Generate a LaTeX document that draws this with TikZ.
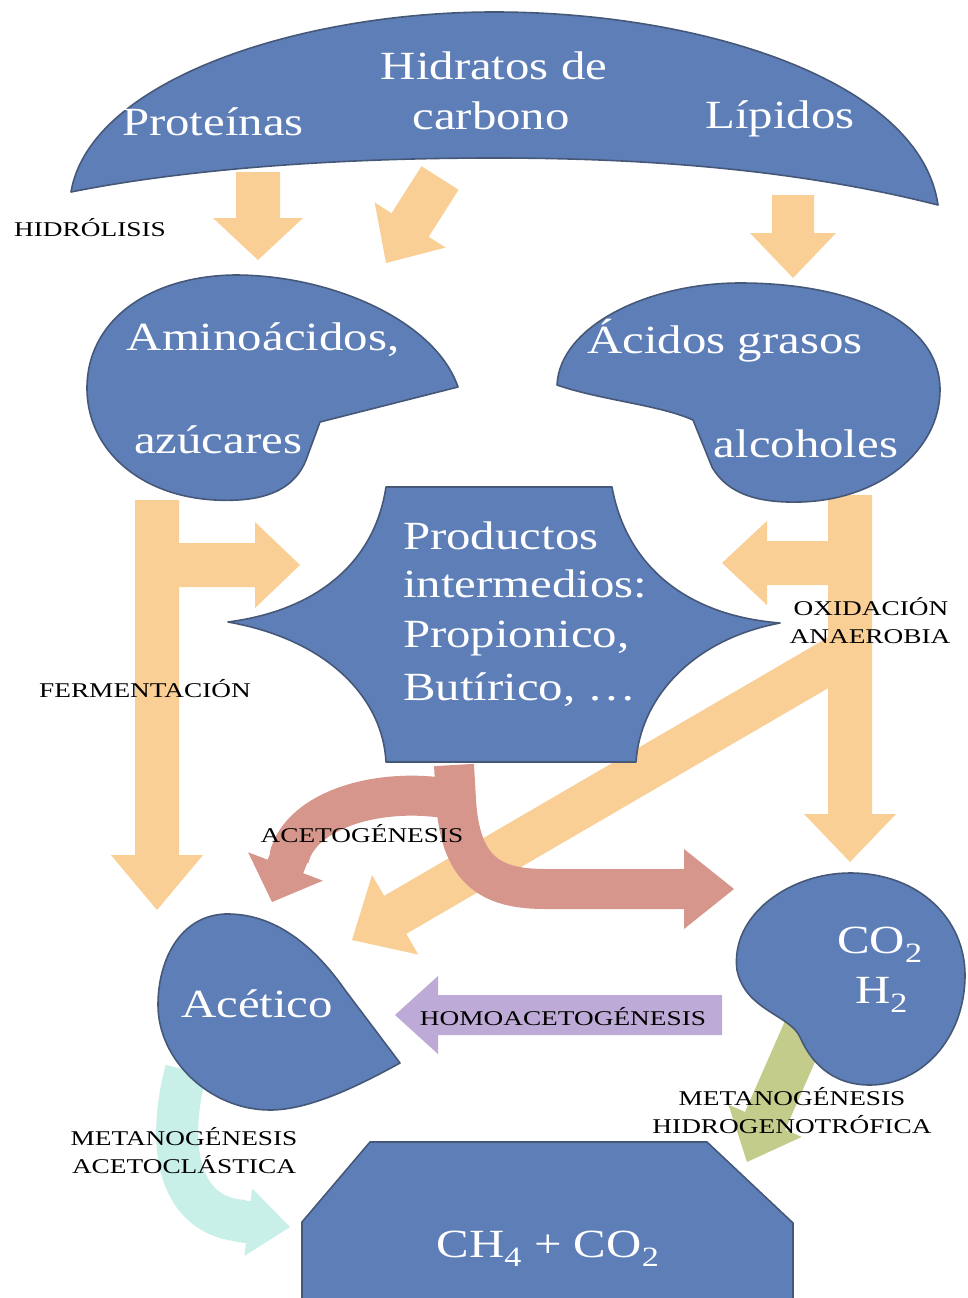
\documentclass[tikz,border=0pt]{standalone}
\usepackage{fontspec}
\setmainfont{Liberation Serif}
\usepackage{graphicx}
\usetikzlibrary{calc}
\definecolor{blobblue}{RGB}{94,126,184}
\definecolor{blobedge}{RGB}{70,88,120}
\definecolor{orng}{RGB}{250,207,150}
\definecolor{pnk}{RGB}{214,150,140}
\definecolor{purp}{RGB}{190,170,214}
\definecolor{cyn}{RGB}{200,240,232}
\definecolor{olv}{RGB}{196,204,140}
\newcommand\bigtxt[1]{\scalebox{1.22}[1]{#1}}
\newcommand\labtxt[1]{\scalebox{1.3}[1]{#1}}
% block arrow: colour, start, tip, half shaft, half head, head length
\newcommand{\barrow}[6]{%
  \coordinate (hb) at ($(#3)!#6!(#2)$);
  \fill[#1] ($(#2)!#4!90:(#3)$) -- ($(hb)!#4!90:(#3)$) -- ($(hb)!#5!90:(#3)$) -- (#3)
    -- ($(hb)!#5!-90:(#3)$) -- ($(hb)!#4!-90:(#3)$) -- ($(#2)!#4!-90:(#3)$) -- cycle;}
\tikzset{
  blob/.style={fill=blobblue, draw=blobedge, line width=1.6pt, line join=round},
  btx/.style={text=white, font=\fontsize{40}{48}\selectfont, inner sep=0pt, anchor=base},
  lbl/.style={text=black, font=\fontsize{21}{28}\selectfont, inner sep=0pt, anchor=base},
  band/.style={line width=40pt, line cap=butt},
}
\begin{document}
\begin{tikzpicture}[x=1pt,y=-1pt]
\useasboundingbox[fill=white] (0,0) rectangle (967,1298);

% ---------- coordinates ----------
\coordinate (h1a) at (258,172); \coordinate (h1b) at (258,260);
\coordinate (h2a) at (440,178); \coordinate (h2b) at (386,263);
\coordinate (h3a) at (793,195); \coordinate (h3b) at (793,278);
\coordinate (fl1) at (157,500); \coordinate (fl2) at (157,910);
\coordinate (fb1) at (165,565); \coordinate (fb2) at (300,565);
\coordinate (or1) at (850,495); \coordinate (or2) at (850,862);
\coordinate (ob1) at (840,563); \coordinate (ob2) at (722,563);
\coordinate (od1) at (850,650); \coordinate (od2) at (352,940);
\coordinate (pu1) at (722,1015); \coordinate (pu2) at (395,1015);
\coordinate (ol1) at (805,1030); \coordinate (ol2) at (747,1162);
\coordinate (pl1) at (291,852); \coordinate (pl2) at (272,902);
\coordinate (pr1) at (670,889); \coordinate (pr2) at (734,889);
\coordinate (cy1) at (238,1221); \coordinate (cy2) at (290,1227);

% ---------- orange arrows (hydrolysis, fermentation, oxidation) ----------
\barrow{orng}{h1a}{h1b}{22pt}{45pt}{42pt}
\barrow{orng}{h2a}{h2b}{22pt}{42pt}{45pt}
\barrow{orng}{h3a}{h3b}{21pt}{43pt}{45pt}
\barrow{orng}{fl1}{fl2}{22pt}{46pt}{55pt}
\barrow{orng}{fb1}{fb2}{22pt}{43pt}{45pt}
\barrow{orng}{or1}{or2}{22pt}{46pt}{48pt}
\barrow{orng}{ob1}{ob2}{22pt}{42pt}{45pt}
\barrow{orng}{od1}{od2}{22pt}{46pt}{50pt}

% ---------- acetogenesis (pink, double) ----------
\draw[pnk, band] (454,765) -- (456,800) .. controls (460,870) and (490,889) .. (545,889) -- (690,889);
\draw[pnk, band] (456,800) .. controls (380,785) and (300,810) .. (289,858);
\barrow{pnk}{pr1}{pr2}{19pt}{40pt}{50pt}
\barrow{pnk}{pl1}{pl2}{19pt}{40pt}{38pt}

% ---------- methanogenesis arrows ----------
\draw[cyn, band, line width=42pt] (186,1070) .. controls (165,1150) and (180,1218) .. (245,1221);
\barrow{cyn}{cy1}{cy2}{21pt}{34pt}{42pt}
\barrow{olv}{ol1}{ol2}{22pt}{40pt}{45pt}

% ---------- homoacetogenesis ----------
\barrow{purp}{pu1}{pu2}{20pt}{39pt}{43pt}

% ---------- blue shapes ----------
\path[blob] (71,192) .. controls (90,80) and (300,12) .. (494,12)
  .. controls (700,12) and (920,80) .. (938,205)
  .. controls (800,170) and (650,158) .. (494,158)
  .. controls (330,158) and (180,170) .. (71,192) -- cycle;

\path[blob] (458,387) -- (320,422) -- (306,460)
  .. controls (292,495) and (255,502) .. (215,500)
  .. controls (140,496) and (88,450) .. (87,390)
  .. controls (86,320) and (150,276) .. (235,275)
  .. controls (330,275) and (435,320) .. (458,387) -- cycle;

\path[blob] (557,385) .. controls (600,400) and (660,405) .. (693,420) -- (712,467)
  .. controls (728,495) and (760,503) .. (800,502)
  .. controls (880,500) and (940,450) .. (940,390)
  .. controls (940,320) and (850,283) .. (740,283)
  .. controls (650,283) and (560,325) .. (557,385) -- cycle;

\path[blob] (386,487) -- (612,487)
  .. controls (625,560) and (680,615) .. (780,623)
  .. controls (690,640) and (640,700) .. (636,762)
  -- (386,762)
  .. controls (383,700) and (330,640) .. (228,622)
  .. controls (320,610) and (375,560) .. (386,487) -- cycle;

\path[blob] (400,1063) -- (345,990)
  .. controls (310,940) and (270,913) .. (225,914)
  .. controls (180,916) and (158,960) .. (158,1005)
  .. controls (158,1060) and (210,1110) .. (270,1110)
  .. controls (310,1110) and (360,1085) .. (400,1063) -- cycle;

\path[blob] (850,873) .. controls (920,873) and (965,920) .. (965,975)
  .. controls (965,1040) and (920,1085) .. (870,1085)
  .. controls (830,1085) and (810,1060) .. (800,1037)
  .. controls (790,1015) and (745,1010) .. (737,970)
  .. controls (730,915) and (790,873) .. (850,873) -- cycle;

\path[blob] (370,1142) -- (707,1142) -- (793,1223) -- (793,1300) -- (302,1300) -- (302,1222) -- cycle;

% ---------- texts in shapes ----------
\node[btx] (prot) at (213,135) {\bigtxt{Proteínas}};
\node[btx] (hid1) at (494,80) {\bigtxt{Hidratos de}};
\node[btx] (hid2) at (491,129) {\bigtxt{carbono}};
\node[btx] (lip) at (780,128) {\bigtxt{Lípidos}};
\node[btx] (ami1) at (263,350) {\bigtxt{Aminoácidos,}};
\node[btx] (ami2) at (218,453) {\bigtxt{azúcares}};
\node[btx] (aci1) at (725,353) {\bigtxt{Ácidos grasos}};
\node[btx] (aci2) at (806,457) {\bigtxt{alcoholes}};
\node[btx, anchor=base west] (pro1) at (403,549) {\bigtxt{Productos}};
\node[btx, anchor=base west] (pro2) at (403,597) {\bigtxt{intermedios:}};
\node[btx, anchor=base west] (pro3) at (403,647) {\bigtxt{Propionico,}};
\node[btx, anchor=base west] (pro4) at (403,700) {\bigtxt{Butírico, …}};
\node[btx] (ace) at (257,1017) {\bigtxt{Acético}};
\node[btx, anchor=base west] (co2) at (837,953) {\bigtxt{CO\textsubscript{2}}};
\node[btx, anchor=base west] (h2) at (855,1003) {\bigtxt{H\textsubscript{2}}};
\node[btx] (ch4) at (548,1257) {\bigtxt{CH\textsubscript{4} + CO\textsubscript{2}}};

% ---------- labels ----------
\node[lbl] (lhid) at (90,236) {\labtxt{HIDRÓLISIS}};
\node[lbl] (lfer) at (145,697) {\labtxt{FERMENTACIÓN}};
\node[lbl] (lox1) at (871,615) {\labtxt{OXIDACIÓN}};
\node[lbl] (lox2) at (870,643) {\labtxt{ANAEROBIA}};
\node[lbl] (lacg) at (362,842) {\labtxt{ACETOGÉNESIS}};
\node[lbl] (lhom) at (563,1025) {\labtxt{HOMOACETOGÉNESIS}};
\node[lbl] (lma1) at (184,1145) {\labtxt{METANOGÉNESIS}};
\node[lbl] (lma2) at (184,1173) {\labtxt{ACETOCLÁSTICA}};
\node[lbl] (lmh1) at (792,1105) {\labtxt{METANOGÉNESIS}};
\node[lbl] (lmh2) at (792,1133) {\labtxt{HIDROGENOTRÓFICA}};
\end{tikzpicture}
\end{document}
